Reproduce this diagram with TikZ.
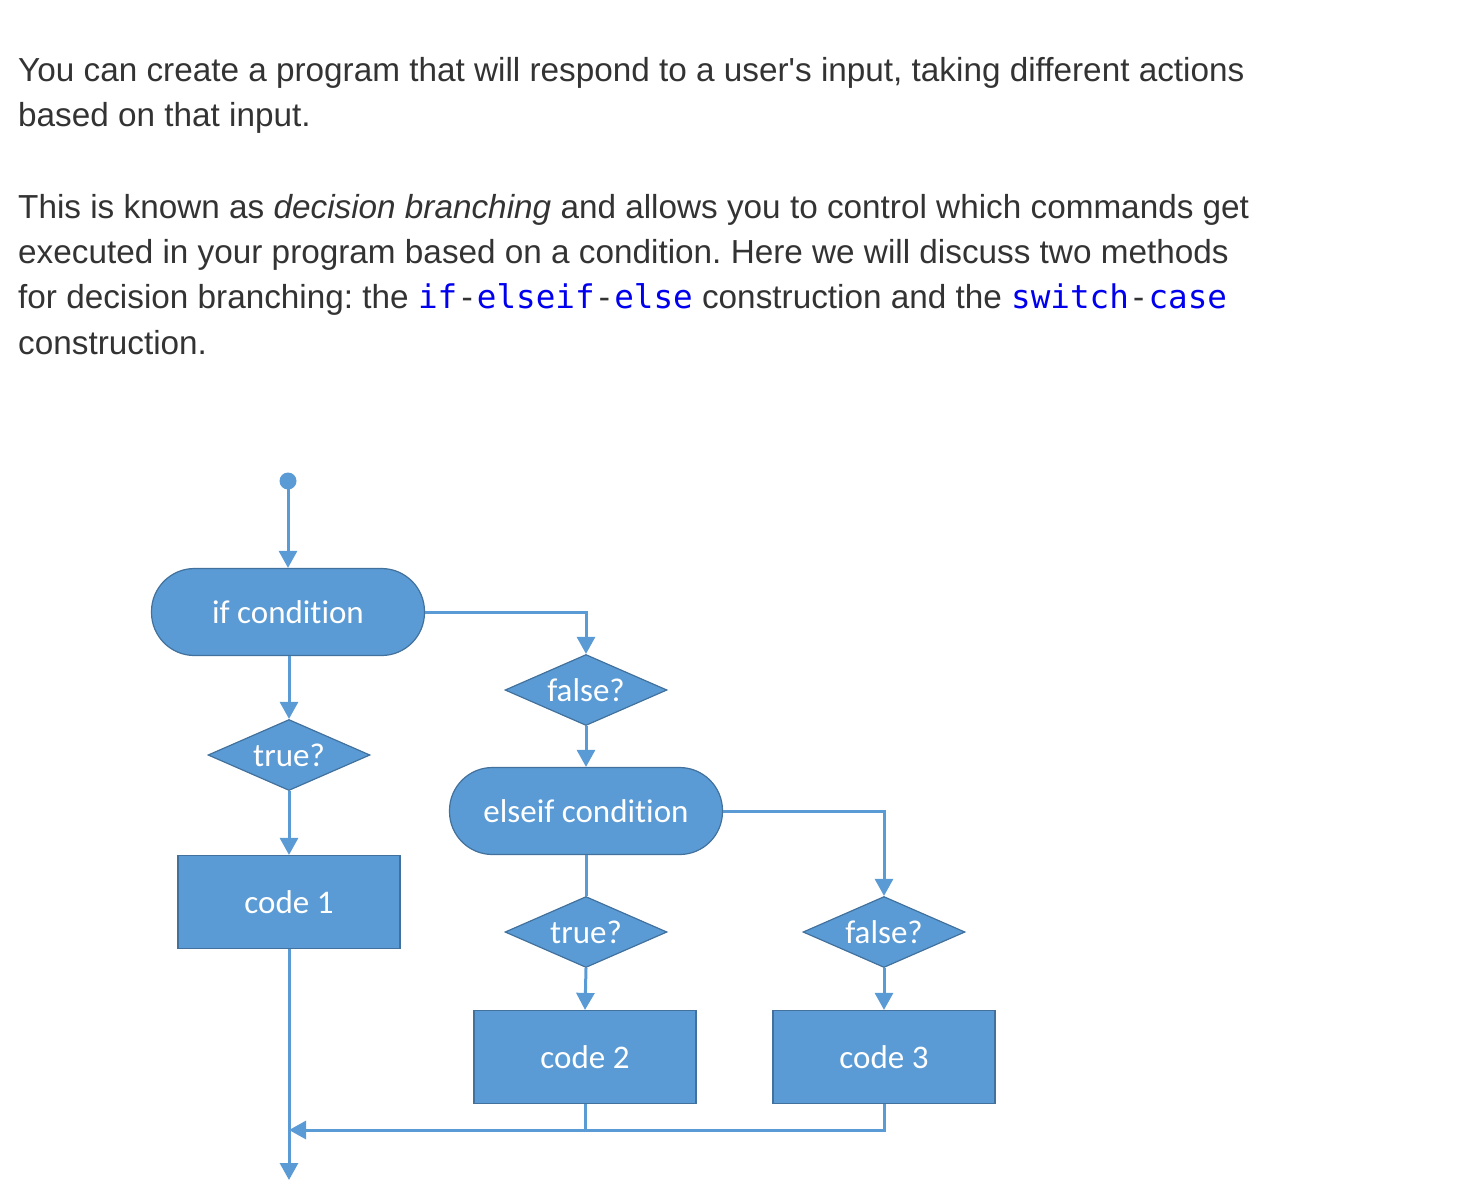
\documentclass[tikz,border=0pt]{standalone}
\usepackage{fontspec}
\setmainfont{Liberation Sans}
\newfontfamily\calib[Ligatures=NoCommon]{Carlito}
\newfontfamily\codefont{DejaVu Sans Mono}
\usetikzlibrary{shapes.geometric,arrows.meta}
\definecolor{txt}{HTML}{333333}
\definecolor{codeblue}{HTML}{0000EE}
\definecolor{boxfill}{HTML}{5B9BD5}
\definecolor{boxline}{HTML}{41719C}
\newcommand{\kw}[1]{{\codefont\fontsize{32.6bp}{40bp}\selectfont\color{codeblue}#1}}
\newcommand{\op}[1]{{\codefont\fontsize{32.6bp}{40bp}\selectfont\color{txt}#1}}
\frenchspacing
\tikzset{
  para/.style={anchor=base west, inner sep=0pt, text=txt, font=\fontsize{33.3bp}{46bp}\selectfont},
  term/.style={rectangle, rounded corners=43bp, fill=boxfill, draw=boxline, line width=1.2bp,
    minimum width=273bp, minimum height=87bp, text=white, font=\calib\fontsize{33bp}{38bp}\selectfont},
  dec/.style={diamond, shape aspect=2.3, inner sep=0pt, fill=boxfill, draw=boxline, line width=1.2bp,
    minimum width=162bp, minimum height=71bp, text=white, font=\calib\fontsize{33bp}{38bp}\selectfont},
  proc/.style={rectangle, fill=boxfill, draw=boxline, line width=1.2bp,
    minimum width=222bp, minimum height=93bp, text=white, font=\calib\fontsize{33bp}{38bp}\selectfont},
  flow/.style={draw=boxfill, line width=3bp},
  arr/.style={flow, -{Triangle[width=18bp,length=17bp]}}
}
\begin{document}
\begin{tikzpicture}[x=1bp,y=-1bp]
\useasboundingbox (0,0) rectangle (1464,1194);
% paragraph text
\node[para] (l1) at (18,81) {You can create a program that will respond to a user\textquotesingle s input, taking different actions};
\node[para] (l2) at (18,126) {based on that input.};
\node[para] (l3) at (18,218) {This is known as \textit{decision branching} and allows you to control which commands get};
\node[para] (l4) at (18,263) {executed in your program based on a condition. Here we will discuss two methods};
\node[para] (l5) at (18,308) {for decision branching: the \kw{if}\op{-}\kw{elseif}\op{-}\kw{else} construction and the \kw{switch}\op{-}\kw{case}};
\node[para] (l6) at (18,354) {construction.};
% flowchart
\fill[boxfill] (288,481) circle (8.5);
\coordinate (start) at (288,481);
\node[term] (if) at (288,612) {if condition};
\node[dec] (f1) at (586,690) {false?};
\node[dec] (t1) at (289,755) {true?};
\node[proc] (c1) at (289,902) {code 1};
\node[term] (ei) at (586,811) {elseif condition};
\node[dec] (t2) at (586,932) {true?};
\node[dec] (f2) at (884,932) {false?};
\node[proc] (c2) at (585,1057) {code 2};
\node[proc] (c3) at (884,1057) {code 3};
\coordinate (endp) at (289,1180);
\coordinate (merge) at (289,1130);
\draw[arr] (start) -- (if.north);
\draw[arr] (if.east) -| (f1.north);
\draw[arr] (f1.south) -- (ei.north);
\draw[arr] (if.south -| t1) -- (t1.north);
\draw[arr] (t1.south) -- (c1.north);
\draw[flow] (ei.south) -- (t2.north);
\draw[arr] (t2.south) -- (c2.north);
\draw[arr] (ei.east) -| (f2.north);
\draw[arr] (f2.south) -- (c3.north);
\draw[arr] (c1.south) -- (endp);
\draw[arr] (c3.south) |- (merge);
\draw[flow] (c2.south) -- (c2.south |- merge);
\end{tikzpicture}
\end{document}
